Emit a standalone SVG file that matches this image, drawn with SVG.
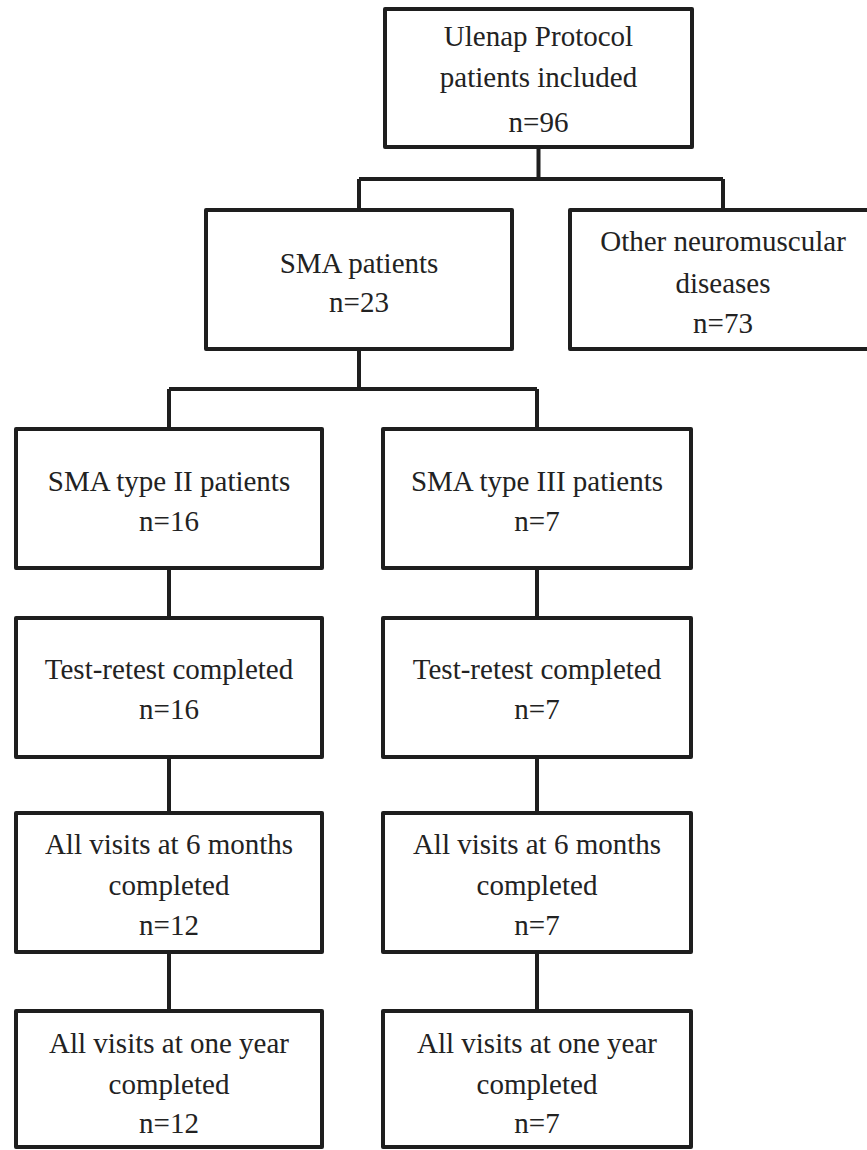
<svg xmlns="http://www.w3.org/2000/svg" width="867" height="1150" viewBox="0 0 867 1150">
<style>
.box{fill:#fff;stroke:#1e1e1e;stroke-width:4;stroke-linejoin:round}
.con{fill:none;stroke:#1e1e1e;stroke-width:4;stroke-linejoin:round}
text{font-family:"Liberation Serif","Times New Roman",serif;font-size:29px;fill:#222;text-anchor:middle}
</style>
<rect width="867" height="1150" fill="#fff"/>
<g id="connectors">
<path class="con" d="M538.5,147 V179 M359,179 H723 M359,179 V210 M723,179 V210"/>
<path class="con" d="M359,349 V389 M169,389 H537 M169,389 V429 M537,389 V429"/>
<path class="con" d="M169,568 V618 M537,568 V618"/>
<path class="con" d="M169,757 V813 M537,757 V813"/>
<path class="con" d="M169,952 V1011 M537,952 V1011"/>
</g>
<g id="n_total">
<rect class="box" x="385" y="9" width="307" height="138"/>
<text x="538.5" y="46">Ulenap Protocol</text>
<text x="538.5" y="87">patients included</text>
<text x="538.5" y="132">n=96</text>
</g>
<g id="n_sma">
<rect class="box" x="206" y="210" width="306" height="139"/>
<text x="359" y="273">SMA patients</text>
<text x="359" y="312">n=23</text>
</g>
<g id="n_other">
<rect class="box" x="570" y="210" width="306" height="139"/>
<text x="723" y="251">Other neuromuscular</text>
<text x="723" y="293">diseases</text>
<text x="723" y="333">n=73</text>
</g>
<g id="n_type2">
<rect class="box" x="16" y="429" width="306" height="139"/>
<text x="169" y="491">SMA type II patients</text>
<text x="169" y="531">n=16</text>
</g>
<g id="n_type3">
<rect class="box" x="383" y="429" width="308" height="139"/>
<text x="537" y="491">SMA type III patients</text>
<text x="537" y="531">n=7</text>
</g>
<g id="n_tr2">
<rect class="box" x="16" y="618" width="306" height="139"/>
<text x="169" y="679">Test-retest completed</text>
<text x="169" y="719">n=16</text>
</g>
<g id="n_tr3">
<rect class="box" x="383" y="618" width="308" height="139"/>
<text x="537" y="679">Test-retest completed</text>
<text x="537" y="719">n=7</text>
</g>
<g id="n_6m2">
<rect class="box" x="16" y="813" width="306" height="139"/>
<text x="169" y="854">All visits at 6 months</text>
<text x="169" y="895">completed</text>
<text x="169" y="935">n=12</text>
</g>
<g id="n_6m3">
<rect class="box" x="383" y="813" width="308" height="139"/>
<text x="537" y="854">All visits at 6 months</text>
<text x="537" y="895">completed</text>
<text x="537" y="935">n=7</text>
</g>
<g id="n_1y2">
<rect class="box" x="16" y="1011" width="306" height="136"/>
<text x="169" y="1053">All visits at one year</text>
<text x="169" y="1094">completed</text>
<text x="169" y="1133">n=12</text>
</g>
<g id="n_1y3">
<rect class="box" x="383" y="1011" width="308" height="136"/>
<text x="537" y="1053">All visits at one year</text>
<text x="537" y="1094">completed</text>
<text x="537" y="1133">n=7</text>
</g>
</svg>
